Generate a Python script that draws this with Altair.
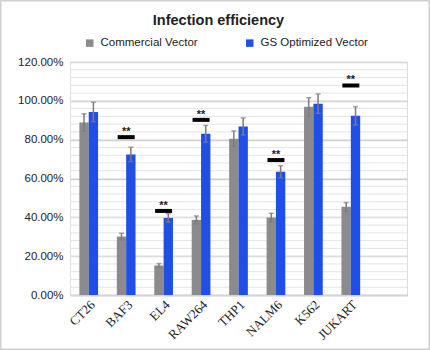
import altair as alt
import pandas as pd

categories = ["CT26", "BAF3", "EL4", "RAW264", "THP1", "NALM6", "K562", "JUKART"]
commercial = [88.9, 30.1, 15.2, 38.7, 80.5, 39.9, 96.9, 45.4]
commercial_err = [4.4, 1.7, 1.0, 2.0, 4.0, 2.2, 4.7, 2.2]
gs_optimized = [94.3, 72.4, 39.7, 83.0, 86.8, 63.5, 98.5, 92.3]
gs_err = [5.0, 3.7, 2.2, 4.3, 4.4, 3.1, 5.0, 4.7]
sig_categories = ["BAF3", "EL4", "RAW264", "NALM6", "JUKART"]
sig_levels = [81.3, 43.3, 90.2, 69.5, 107.9]
sig_labels = ["**", "**", "**", "**", "**"]
series = ["Commercial Vector", "GS Optimized Vector"]
colors = ["#8b8b8d", "#1f4fe8"]

rows = []
for c, v, e in zip(categories, commercial, commercial_err):
    rows.append({"cat": c, "series": series[0], "v": v / 100, "lo": (v - e) / 100, "hi": (v + e) / 100})
for c, v, e in zip(categories, gs_optimized, gs_err):
    rows.append({"cat": c, "series": series[1], "v": v / 100, "lo": (v - e) / 100, "hi": (v + e) / 100})
df = pd.DataFrame(rows)
sig = pd.DataFrame({"cat": sig_categories, "y": [s / 100 for s in sig_levels], "t": sig_labels})

domain = categories + [""]
xscale = alt.Scale(domain=domain, paddingInner=0.5, paddingOuter=0.25)
yscale = alt.Scale(domain=[0, 1.2], nice=False)

x_axis = alt.Axis(labelAngle=-45, labelFont="Liberation Serif", labelFontSize=13,
                  labelColor="#222", ticks=False, labelPadding=3,
                  domainColor="#c4c4c4", domainWidth=1.5, grid=False)
y_axis = alt.Axis(values=[0, 0.2, 0.4, 0.6, 0.8, 1.0, 1.2], format=".2%",
                  labelFont="Liberation Sans", labelFontSize=11.5, labelColor="#222",
                  ticks=False, labelPadding=7, domain=False, labelOverlap=False,
                  gridColor="#cfcfcf", gridWidth=1.5)

def X():
    return alt.X("cat:N", scale=xscale, sort=domain, title=None, axis=x_axis)

def Y(field):
    return alt.Y(field, scale=yscale, title=None, axis=y_axis)

xoff = alt.XOffset("series:N", scale=alt.Scale(domain=series, paddingInner=0, paddingOuter=0))

base = alt.Chart(df)

bars = base.mark_bar(stroke=None).encode(
    x=X(), xOffset=xoff, y=Y("v:Q"),
    color=alt.Color("series:N", scale=alt.Scale(domain=series, range=colors),
                    legend=alt.Legend(title=None, orient="none", direction="horizontal",
                                      legendX=14, legendY=-25, symbolType="square",
                                      symbolSize=56, symbolStrokeWidth=0,
                                      labelFont="Liberation Sans", labelFontSize=11.5,
                                      labelColor="#222", columnPadding=46, labelOffset=5)),
)

minor = alt.Chart(pd.DataFrame({"g": [i * 0.04 for i in range(31)]})).mark_rule(
    color="#e4e4e4", strokeWidth=1).encode(y=Y("g:Q"))

err = base.mark_rule(color="#7d7d7d", strokeWidth=1.5).encode(
    x=X(), xOffset=xoff, y=Y("lo:Q"), y2="hi:Q")
cap_lo = base.mark_tick(color="#7d7d7d", thickness=1.5, size=5).encode(
    x=X(), xOffset=xoff, y=Y("lo:Q"))
cap_hi = base.mark_tick(color="#7d7d7d", thickness=1.5, size=5).encode(
    x=X(), xOffset=xoff, y=Y("hi:Q"))

sigbar = alt.Chart(sig).mark_tick(color="#000", thickness=4, size=17, opacity=1).encode(
    x=X(), y=Y("y:Q"))
sigtext = alt.Chart(sig).mark_text(font="Liberation Sans", fontSize=11, fontWeight="bold",
                                   color="#222", baseline="alphabetic", dy=-2).encode(
    x=X(), y=Y("y:Q"), text="t:N")

frame = alt.Chart(pd.DataFrame({"a": [0]})).mark_rect(
    fill=None, stroke="#d0d0d0", strokeWidth=1.5).encode(
    x=alt.value(-69.25), x2=alt.value(359.25), y=alt.value(-61.25), y2=alt.value(287.25))

chart = alt.layer(minor, bars, err, cap_lo, cap_hi, sigbar, sigtext, frame).properties(
    width=337, height=233,
    autosize=alt.AutoSizeParams(type="none"),
    padding={"left": 70, "top": 62, "right": 23, "bottom": 55},
    title=alt.TitleParams("Infection efficiency", font="Liberation Sans", fontSize=14.5,
                          fontWeight="bold", color="#222", anchor="middle", frame="group",
                          dx=-20, offset=0, dy=28),
).configure_view(stroke=None).configure(background="white")

chart.save("out.html", embed_options={"renderer": "svg", "actions": False})
